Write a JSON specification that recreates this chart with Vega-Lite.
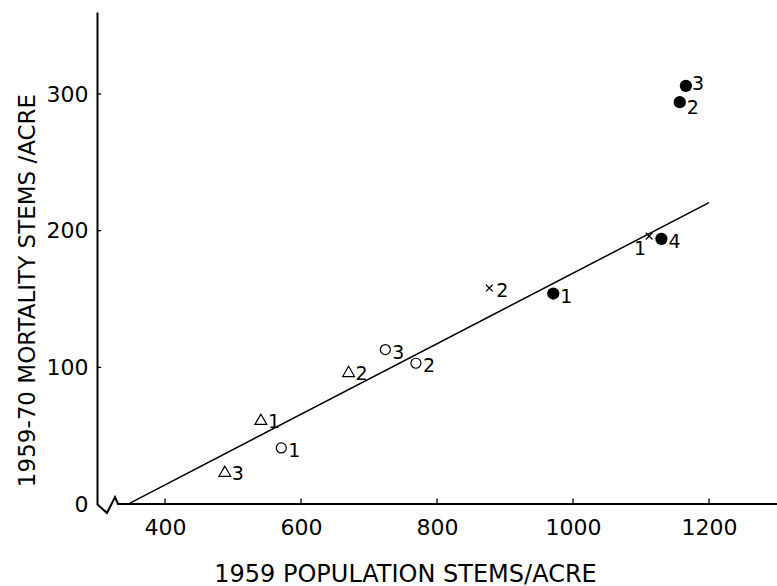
{
  "$schema": "https://vega.github.io/schema/vega-lite/v6.json",
  "width": 680,
  "height": 492,
  "autosize": {"type": "none"},
  "padding": {"left": 97, "top": 12, "right": 0, "bottom": 82},
  "background": "white",
  "config": {"view": {"stroke": null}, "font": "DejaVu Sans"},
  "datasets": {
    "points": [
      {"group": "filled", "x": 1166, "y": 306, "label": "3"},
      {"group": "filled", "x": 1157, "y": 294, "label": "2"},
      {"group": "filled", "x": 1130, "y": 194, "label": "4"},
      {"group": "filled", "x": 971, "y": 154, "label": "1"},
      {"group": "cross", "x": 1112, "y": 196, "label": "1"},
      {"group": "cross", "x": 877, "y": 158, "label": "2"},
      {"group": "open", "x": 571, "y": 41, "label": "1"},
      {"group": "open", "x": 769, "y": 103, "label": "2"},
      {"group": "open", "x": 724, "y": 113, "label": "3"},
      {"group": "triangle", "x": 541, "y": 62, "label": "1"},
      {"group": "triangle", "x": 670, "y": 97, "label": "2"},
      {"group": "triangle", "x": 488, "y": 24, "label": "3"}
    ],
    "fit": [{"x": 348.5, "y": 0.7}, {"x": 1200, "y": 220.5}],
    "baseline": [
      {"order": 1, "x": 300, "y": 0},
      {"order": 2, "x": 314.7, "y": -6.6},
      {"order": 3, "x": 326.5, "y": 5.1},
      {"order": 4, "x": 330.9, "y": 0},
      {"order": 5, "x": 1300, "y": 0}
    ],
    "xticks": [{"v": 400}, {"v": 600}, {"v": 800}, {"v": 1000}, {"v": 1200}],
    "yticks": [{"v": 100}, {"v": 200}, {"v": 300}]
  },
  "layer": [
    {
      "data": {"name": "fit"},
      "mark": {"type": "line", "color": "black", "strokeWidth": 1.5},
      "encoding": {
        "x": {
          "field": "x", "type": "quantitative",
          "scale": {"domain": [300, 1300], "nice": false, "zero": false},
          "axis": {
            "title": "1959 POPULATION STEMS/ACRE",
            "values": [400, 600, 800, 1000, 1200], "format": "d",
            "domain": false, "grid": false, "ticks": false, "tickSize": 0,
            "labelFontSize": 22, "labelColor": "black", "labelPadding": 13,
            "titleFontSize": 24, "titleFontWeight": "normal", "titleColor": "black",
            "titleX": 308, "titleY": 70, "titleBaseline": "middle", "titleAlign": "center"
          }
        },
        "y": {
          "field": "y", "type": "quantitative",
          "scale": {"domain": [0, 360], "nice": false, "zero": false},
          "axis": {
            "title": "1959-70 MORTALITY STEMS /ACRE",
            "values": [0, 100, 200, 300], "format": "d",
            "domain": true, "domainColor": "black", "domainWidth": 2, "grid": false,
            "ticks": false, "tickSize": 0,
            "labelFontSize": 22, "labelColor": "black", "labelPadding": 9,
            "titleFontSize": 23, "titleFontWeight": "normal", "titleColor": "black",
            "titleX": -70, "titleY": 278, "titleBaseline": "middle", "titleAlign": "center"
          }
        }
      }
    },
    {
      "data": {"name": "baseline"},
      "mark": {"type": "line", "color": "black", "strokeWidth": 2},
      "encoding": {
        "x": {"field": "x", "type": "quantitative"},
        "y": {"field": "y", "type": "quantitative"},
        "order": {"field": "order"}
      }
    },
    {
      "data": {"name": "xticks"},
      "mark": {"type": "rule", "color": "black", "strokeWidth": 1.3},
      "encoding": {
        "x": {"field": "v", "type": "quantitative"},
        "y": {"datum": 0},
        "y2": {"datum": 4}
      }
    },
    {
      "data": {"name": "yticks"},
      "mark": {"type": "rule", "color": "black", "strokeWidth": 1.3},
      "encoding": {
        "y": {"field": "v", "type": "quantitative"},
        "x": {"datum": 300},
        "x2": {"datum": 306}
      }
    },
    {
      "data": {"name": "points"},
      "transform": [{"filter": "datum.group === 'filled'"}],
      "mark": {"type": "point", "shape": "circle", "filled": true, "color": "black", "size": 150, "opacity": 1},
      "encoding": {
        "x": {"field": "x", "type": "quantitative"},
        "y": {"field": "y", "type": "quantitative"}
      }
    },
    {
      "data": {"name": "points"},
      "transform": [{"filter": "datum.group === 'open'"}],
      "mark": {"type": "point", "shape": "circle", "filled": false, "color": "black", "size": 100, "strokeWidth": 1.2, "opacity": 1},
      "encoding": {
        "x": {"field": "x", "type": "quantitative"},
        "y": {"field": "y", "type": "quantitative"}
      }
    },
    {
      "data": {"name": "points"},
      "transform": [{"filter": "datum.group === 'triangle'"}],
      "mark": {"type": "point", "shape": "triangle-up", "filled": false, "color": "black", "size": 140, "strokeWidth": 1.2, "opacity": 1},
      "encoding": {
        "x": {"field": "x", "type": "quantitative"},
        "y": {"field": "y", "type": "quantitative"}
      }
    },
    {
      "data": {"name": "points"},
      "transform": [{"filter": "datum.group === 'cross'"}],
      "mark": {"type": "point", "shape": "M-1,-1L1,1M1,-1L-1,1", "filled": false, "color": "black", "size": 45, "strokeWidth": 1.2, "opacity": 1},
      "encoding": {
        "x": {"field": "x", "type": "quantitative"},
        "y": {"field": "y", "type": "quantitative"}
      }
    },
    {
      "data": {"name": "points"},
      "transform": [{"filter": "!(datum.group === 'cross' && datum.label === '1') && !(datum.group === 'filled' && (datum.label === '2' || datum.label === '3'))"}],
      "mark": {"type": "text", "align": "left", "baseline": "middle", "dx": 7, "dy": 3, "fontSize": 19, "color": "black"},
      "encoding": {
        "x": {"field": "x", "type": "quantitative"},
        "y": {"field": "y", "type": "quantitative"},
        "text": {"field": "label"}
      }
    },
    {
      "data": {"name": "points"},
      "transform": [{"filter": "datum.group === 'filled' && datum.label === '3'"}],
      "mark": {"type": "text", "align": "left", "baseline": "middle", "dx": 6, "dy": -2, "fontSize": 19, "color": "black"},
      "encoding": {
        "x": {"field": "x", "type": "quantitative"},
        "y": {"field": "y", "type": "quantitative"},
        "text": {"field": "label"}
      }
    },
    {
      "data": {"name": "points"},
      "transform": [{"filter": "datum.group === 'filled' && datum.label === '2'"}],
      "mark": {"type": "text", "align": "left", "baseline": "middle", "dx": 7, "dy": 6, "fontSize": 19, "color": "black"},
      "encoding": {
        "x": {"field": "x", "type": "quantitative"},
        "y": {"field": "y", "type": "quantitative"},
        "text": {"field": "label"}
      }
    },
    {
      "data": {"name": "points"},
      "transform": [{"filter": "datum.group === 'cross' && datum.label === '1'"}],
      "mark": {"type": "text", "align": "center", "baseline": "middle", "dx": -9, "dy": 13, "fontSize": 19, "color": "black"},
      "encoding": {
        "x": {"field": "x", "type": "quantitative"},
        "y": {"field": "y", "type": "quantitative"},
        "text": {"field": "label"}
      }
    }
  ]
}
